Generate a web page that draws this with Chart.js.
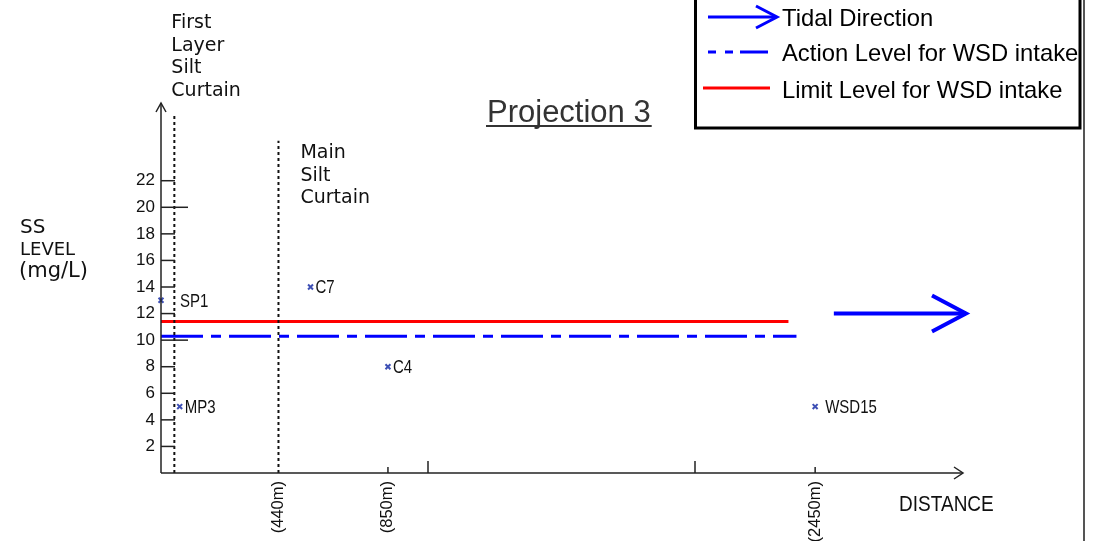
<!DOCTYPE html>
<html>
<head>
<meta charset="utf-8">
<title>Projection 3</title>
<script src="https://cdn.jsdelivr.net/npm/chart.js@4.4.1/dist/chart.umd.min.js"></script>
<style>
  html, body { margin: 0; padding: 0; background: #fff; }
  #wrap { width: 1093px; height: 541px; }
</style>
</head>
<body>
<div id="wrap"><canvas id="projChart" width="1093" height="541"></canvas></div>
<script>
// stations: distance (m) and SS level (mg/L)
const stationNames = ['SP1', 'MP3', 'C7', 'C4', 'WSD15'];
const stationDist = [0, 70, 560, 850, 2450];
const stationSS = [13, 5, 14, 8, 5];

// WSD intake levels
const limitLevel = 11.4;
const limitExtent = [0, 2350];
const actionLevel = 10.3;
const actionExtent = [0, 2380];

// tidal direction arrow
const tidalDist = [2520, 3015];
const tidalLevel = 12;

// silt curtains
const curtainNames = [['First', 'Layer', 'Silt', 'Curtain'], ['Main', 'Silt', 'Curtain']];
const curtainDist = [50, 440];
const curtainTop = [26.9, 25];

// axis ticks
const yTicks = [2, 4, 6, 8, 10, 12, 14, 16, 18, 20, 22];
const yLongTicks = [10, 20];
const xLabelTicks = [440, 850, 2450];
const xShortTicks = [850, 2450];
const xTallTicks = [1000, 2000];

const INK = '#222';
const CAD = '"DejaVu Sans", sans-serif';
const ARIAL = '"Liberation Sans", Arial, sans-serif';

function line(ctx, x1, y1, x2, y2) {
    ctx.beginPath();
    ctx.moveTo(x1, y1);
    ctx.lineTo(x2, y2);
    ctx.stroke();
}

// condensed text: squeeze horizontally
function narrowText(ctx, text, x, y, sx) {
    ctx.save();
    ctx.translate(x, y);
    ctx.scale(sx, 1);
    ctx.fillText(text, 0, 0);
    ctx.restore();
}

function arrowHead(ctx, tx, ty, dir, len, spread) {
    ctx.beginPath();
    if (dir === 'right') {
        ctx.moveTo(tx - len, ty - spread);
        ctx.lineTo(tx, ty);
        ctx.lineTo(tx - len, ty + spread);
    } else {
        ctx.moveTo(tx - spread, ty + len);
        ctx.lineTo(tx, ty);
        ctx.lineTo(tx + spread, ty + len);
    }
    ctx.stroke();
}

const drawingPlugin = {
    id: 'drawing',
    afterDatasetsDraw(chart, args, opts) {
        const ctx = chart.ctx;
        const xs = chart.scales.x, ys = chart.scales.y;
        const x0 = xs.getPixelForValue(0), y0 = ys.getPixelForValue(0);
        ctx.save();

        // axes with arrows
        ctx.strokeStyle = INK;
        ctx.lineWidth = 1.5;
        line(ctx, x0, y0, x0, ys.top + 2);
        line(ctx, x0, y0, xs.right, y0);
        arrowHead(ctx, x0, ys.top + 2, 'up', 9, 5);
        arrowHead(ctx, xs.right + 1, y0, 'right', 9, 6);

        // y tick marks (pointing into the plot)
        yTicks.forEach(v => {
            const y = ys.getPixelForValue(v);
            line(ctx, x0, y, x0 + (yLongTicks.includes(v) ? 27 : 14), y);
        });
        // x tick marks (pointing up)
        xShortTicks.forEach(v => {
            const x = xs.getPixelForValue(v);
            line(ctx, x, y0, x, y0 - 6);
        });
        xTallTicks.forEach(v => {
            const x = xs.getPixelForValue(v);
            line(ctx, x, y0, x, y0 - 12);
        });

        // tidal arrow head
        const tMeta = chart.getDatasetMeta(3);
        const tip = tMeta.data[tMeta.data.length - 1];
        ctx.strokeStyle = '#0000ff';
        ctx.lineWidth = 4;
        arrowHead(ctx, tip.x, tip.y, 'right', 34, 18);

        // station labels
        ctx.fillStyle = '#111';
        ctx.font = '19px ' + ARIAL;
        ctx.textBaseline = 'middle';
        ctx.textAlign = 'left';
        chart.getDatasetMeta(0).data.forEach((pt, i) => {
            const gap = opts.labelGap[stationNames[i]] || 5;
            narrowText(ctx, stationNames[i], pt.x + gap, pt.y + 1, 0.79);
        });

        // curtain labels
        ctx.font = '19px ' + CAD;
        ctx.textBaseline = 'alphabetic';
        curtainNames.forEach((words, i) => {
            const x = xs.getPixelForValue(curtainDist[i]) + opts.curtainDx[i];
            words.forEach((w, j) => ctx.fillText(w, x, opts.curtainY[i] + j * 22.5));
        });

        // axis titles
        ctx.font = '20px ' + CAD;
        ctx.fillText('SS', 20, 233);
        ctx.font = '18px ' + CAD;
        ctx.fillText('LEVEL', 20, 255);
        ctx.font = '21px ' + CAD;
        ctx.fillText('(mg/L)', 19, 277);
        ctx.font = '22px ' + ARIAL;
        narrowText(ctx, 'DISTANCE', 899, 511, 0.865);

        // title
        ctx.font = '31px ' + ARIAL;
        ctx.fillStyle = '#333';
        ctx.fillText('Projection 3', 487, 122);
        ctx.strokeStyle = '#333';
        ctx.lineWidth = 2;
        const tw = ctx.measureText('Projection 3').width;
        line(ctx, 486, 126, 487 + tw + 1, 126);

        // page border on the right
        ctx.strokeStyle = '#555';
        ctx.lineWidth = 2;
        line(ctx, 1084, 0, 1084, 541);

        // legend box
        ctx.fillStyle = '#fff';
        ctx.fillRect(695, -3, 385, 131);
        ctx.strokeStyle = '#000';
        ctx.lineWidth = 3;
        ctx.strokeRect(695.5, -3, 384.5, 131);

        ctx.strokeStyle = '#0000ff';
        ctx.lineWidth = 3;
        line(ctx, 708, 17, 776, 17);
        arrowHead(ctx, 777, 17, 'right', 21, 11);
        ctx.setLineDash([8, 9, 8, 7, 28, 0]);
        line(ctx, 708, 52, 768, 52);
        ctx.setLineDash([]);
        ctx.strokeStyle = '#ff0000';
        line(ctx, 703, 88, 770, 88);

        ctx.fillStyle = '#000';
        ctx.font = '23.8px ' + ARIAL;
        ctx.textBaseline = 'middle';
        ctx.fillText('Tidal Direction', 782, 19);
        ctx.fillText('Action Level for WSD intake', 782, 54);
        ctx.fillText('Limit Level for WSD intake', 782, 91);

        ctx.restore();
    }
};

const ctx = document.getElementById('projChart').getContext('2d');
new Chart(ctx, {
    type: 'scatter',
    data: {
        datasets: [
            {
                label: 'Stations',
                data: stationDist.map((d, i) => ({ x: d, y: stationSS[i] })),
                pointStyle: 'crossRot',
                pointRadius: 3.5,
                pointBorderWidth: 2,
                borderColor: '#3d4fb5',
                backgroundColor: '#3d4fb5',
                clip: false
            },
            {
                type: 'line',
                label: 'Limit Level for WSD intake',
                data: limitExtent.map(d => ({ x: d, y: limitLevel })),
                borderColor: '#ff0000',
                borderWidth: 3,
                pointRadius: 0,
                clip: false
            },
            {
                type: 'line',
                label: 'Action Level for WSD intake',
                data: actionExtent.map(d => ({ x: d, y: actionLevel })),
                borderColor: '#0000ff',
                borderWidth: 3,
                borderDash: [42, 8, 10, 8],
                pointRadius: 0,
                clip: false
            },
            {
                type: 'line',
                label: 'Tidal Direction',
                data: tidalDist.map(d => ({ x: d, y: tidalLevel })),
                borderColor: '#0000ff',
                borderWidth: 4,
                pointRadius: 0,
                clip: false
            },
            ...curtainDist.map((d, i) => ({
                type: 'line',
                label: curtainNames[i].join(' '),
                data: [{ x: d, y: 0 }, { x: d, y: curtainTop[i] }],
                borderColor: '#111',
                borderWidth: 2,
                borderDash: [3, 3],
                pointRadius: 0,
                order: -1,
                clip: false
            }))
        ]
    },
    options: {
        responsive: false,
        animation: false,
        layout: { padding: { left: 0, top: 101, right: 131, bottom: 0 } },
        plugins: {
            legend: { display: false },
            tooltip: { enabled: false },
            drawing: {
                labelGap: { SP1: 19, WSD15: 10 },
                curtainDx: [-3, 22],
                curtainY: [28, 158]
            }
        },
        scales: {
            x: {
                type: 'linear',
                min: 0,
                max: 3000,
                afterFit: s => { s.height = 68; },
                afterBuildTicks: s => { s.ticks = xLabelTicks.map(v => ({ value: v })); },
                grid: { display: false, drawTicks: false },
                border: { display: false },
                ticks: {
                    autoSkip: false,
                    minRotation: 90,
                    maxRotation: 90,
                    padding: 8,
                    color: '#111',
                    font: { family: ARIAL, size: 16.5 },
                    callback: v => '(' + v + 'm)'
                }
            },
            y: {
                type: 'linear',
                min: 0,
                max: 28,
                afterFit: s => { s.width = 161; },
                afterBuildTicks: s => { s.ticks = yTicks.map(v => ({ value: v })); },
                grid: { display: false, drawTicks: false },
                border: { display: false },
                ticks: {
                    padding: 6,
                    color: '#111',
                    font: { family: ARIAL, size: 17 }
                }
            }
        }
    },
    plugins: [drawingPlugin]
});
</script>
</body>
</html>
